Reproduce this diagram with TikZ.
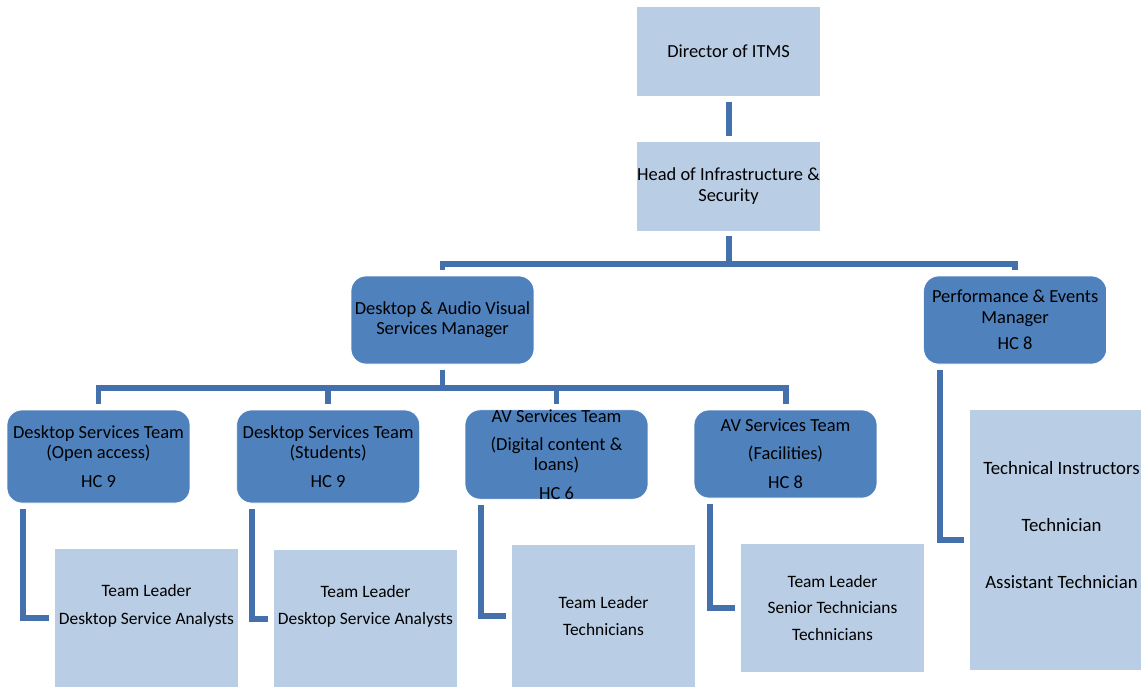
\documentclass[tikz,border=0pt]{standalone}
\usepackage{fontspec}
\setmainfont{Carlito}
\usetikzlibrary{positioning}

\definecolor{darkbox}{HTML}{4F81BD}
\definecolor{lightbox}{HTML}{B9CDE5}
\definecolor{connblue}{HTML}{4470AB}

\tikzstyle{head} = [rectangle, fill=lightbox, minimum width=3.66cm, minimum height=1.78cm, align=center, inner sep=0pt]
\tikzstyle{mgr} = [rectangle, fill=darkbox, draw=white, thin, rounded corners=0.3cm, minimum width=3.66cm, minimum height=1.76cm, align=center, inner sep=0pt]
\tikzstyle{staff} = [rectangle, fill=lightbox, minimum width=3.66cm, align=center, inner sep=0pt, font=\fontsize{9.9}{11.5}\selectfont]
\tikzstyle{line} = [draw, color=connblue, line width=3.4pt, shorten <=3pt, shorten >=3pt]

\begin{document}
\begin{tikzpicture}[x=0.02cm, y=-0.02cm, font=\fontsize{10.5}{11.5}\selectfont]
    \useasboundingbox (0,0) rectangle (1141,687);
    \clip (0,0) rectangle (1141,687);

    % Top of the chart
    \node [head] (director) at (728.5,51.5) {Director of ITMS};
    \node [head, below=0.9cm of director] (infra) {Head of Infrastructure \&\\Security};

    % Managers
    \node [mgr] (dav) at (442.5,320) {Desktop \& Audio Visual\\Services Manager};
    \node [mgr, right=7.78cm of dav] (pem) {Performance \& Events\\Manager\\[3.5pt]HC 8};

    % Teams
    \node [mgr, minimum height=1.86cm] (dsopen) at (98.5,456.5) {Desktop Services Team\\(Open access)\\[5pt]HC 9};
    \node [mgr, minimum height=1.86cm, right=0.92cm of dsopen] (dsstud) {Desktop Services Team\\(Students)\\[5pt]HC 9};
    \node [mgr, minimum height=1.78cm] (avdig) at (556.5,454.5) {AV Services Team\\[4.5pt](Digital content \&\\loans)\\[4.5pt]HC 6};
    \node [mgr] (avfac) at (785.5,454) {AV Services Team\\[4.5pt](Facilities)\\[5pt]HC 8};

    % Staff in each team
    \node [staff, minimum height=2.76cm] (stopen) at (146.5,618) {Team Leader\\[4pt]Desktop Service Analysts\\[4pt]~};
    \node [staff, minimum height=2.74cm] (ststud) at (365.5,618.5) {Team Leader\\[4pt]Desktop Service Analysts\\[4pt]~};
    \node [staff, minimum height=2.84cm] (stdig) at (603.5,616) {Team Leader\\[4pt]Technicians};
    \node [staff, minimum height=2.56cm] (stfac) at (832.5,608) {Team Leader\\[3.5pt]Senior Technicians\\[3.5pt]Technicians};
    \node [staff, minimum height=5.2cm, font=\fontsize{10.7}{11.5}\selectfont] (stperf) at (1061.5,540) {Technical Instructors\\[21pt]Technician\\[21pt]Assistant Technician\\[5.7pt]~};

    % Draw edges
    \path [line] (director) -- (infra);
    \path [line] (infra.south) -- ++(0,33) -| (dav.north);
    \path [line] (infra.south) -- ++(0,33) -| (pem.north);
    \path [line] (dav.south) -- ++(0,24) -| (dsopen.north);
    \path [line] (dav.south) -- ++(0,24) -| (dsstud.north);
    \path [line] (dav.south) -- ++(0,24) -| (avdig.north);
    \path [line] (dav.south) -- ++(0,24) -| (avfac.north);
    \path [line] ([xshift=0.32cm]dsopen.south west) |- (stopen.west);
    \path [line] ([xshift=0.32cm]dsstud.south west) |- (ststud.west);
    \path [line] ([xshift=0.32cm]avdig.south west) |- (stdig.west);
    \path [line] ([xshift=0.32cm]avfac.south west) |- (stfac.west);
    \path [line] ([xshift=0.34cm]pem.south west) |- (stperf.west);

\end{tikzpicture}
\end{document}
